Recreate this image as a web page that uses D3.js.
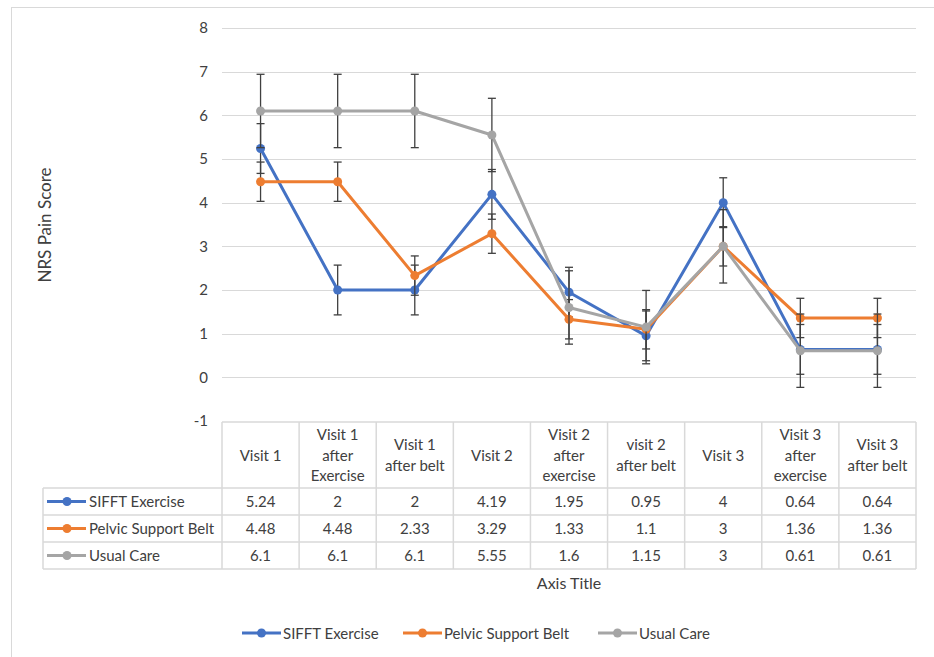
<!DOCTYPE html>
<html lang="en">
<head>
<meta charset="UTF-8">
<title>NRS Pain Score</title>
<script src="https://d3js.org/d3.v7.min.js"></script>
<style>
  body { margin: 0; background: #fff; }
  text { font-family: Lato, "Open Sans", sans-serif; fill: #404040; }
</style>
</head>
<body>
<div id="chart"></div>
<script>
// categories (header lines as shown in the table)
const categories = [
  ["Visit 1"],
  ["Visit 1", "after", "Exercise"],
  ["Visit 1", "after belt"],
  ["Visit 2"],
  ["Visit 2", "after", "exercise"],
  ["visit 2", "after belt"],
  ["Visit 3"],
  ["Visit 3", "after", "exercise"],
  ["Visit 3", "after belt"]
];
const seriesNames = ["SIFFT Exercise", "Pelvic Support Belt", "Usual Care"];
const sifft = [5.24, 2, 2, 4.19, 1.95, 0.95, 4, 0.64, 0.64];
const belt = [4.48, 4.48, 2.33, 3.29, 1.33, 1.1, 3, 1.36, 1.36];
const usual = [6.1, 6.1, 6.1, 5.55, 1.6, 1.15, 3, 0.61, 0.61];
const errors = [0.57, 0.45, 0.84];
const yTicks = [-1, 0, 1, 2, 3, 4, 5, 6, 7, 8];
const colors = ["#4472C4", "#ED7D31", "#A5A5A5"];

const series = [sifft, belt, usual].map((v, i) => ({ name: seriesNames[i], values: v, err: errors[i], color: colors[i] }));

const W = 934, H = 657;
const svg = d3.select("#chart").append("svg").attr("width", W).attr("height", H);

// outer chart border
svg.append("rect").attr("x", 11.5).attr("y", 7.5).attr("width", W).attr("height", H)
  .attr("fill", "none").attr("stroke", "#D9D9D9");

const x = d3.scaleBand().domain(d3.range(categories.length)).range([222, 916]);
const y = d3.scaleLinear().domain([-1, 8]).range([421, 28]);

// gridlines
svg.append("g").selectAll("line").data(yTicks.filter(t => t >= 0)).join("line")
  .attr("x1", 222).attr("x2", 916)
  .attr("y1", d => Math.round(y(d)) + 0.5).attr("y2", d => Math.round(y(d)) + 0.5)
  .attr("stroke", "#D9D9D9").attr("stroke-width", 1);

// y axis labels
const yAxis = svg.append("g").attr("transform", "translate(208,0)")
  .call(d3.axisLeft(y).tickValues(yTicks).tickFormat(d => String(d)).tickSize(0).tickPadding(0));
yAxis.select(".domain").remove();
yAxis.selectAll("text").style("font-size", "15px").style("font-family", "Lato, sans-serif").attr("fill", "#404040");

svg.append("text").attr("transform", "translate(51,225) rotate(-90)")
  .attr("text-anchor", "middle").style("font-size", "17px").text("NRS Pain Score");

// series
const cx = i => x(i) + x.bandwidth() / 2;
const line = d3.line().x((d, i) => cx(i)).y(d => y(d));

series.forEach(s => {
  const g = svg.append("g");
  g.append("path").datum(s.values).attr("d", line)
    .attr("fill", "none").attr("stroke", s.color).attr("stroke-width", 3).attr("stroke-linejoin", "round");
  const eb = g.append("g").attr("stroke", "#404040").attr("stroke-width", 1.3);
  s.values.forEach((v, i) => {
    const x0 = cx(i), t = y(v + s.err), b = y(v - s.err);
    eb.append("line").attr("x1", x0).attr("x2", x0).attr("y1", t).attr("y2", b);
    eb.append("line").attr("x1", x0 - 4).attr("x2", x0 + 4).attr("y1", t).attr("y2", t);
    eb.append("line").attr("x1", x0 - 4).attr("x2", x0 + 4).attr("y1", b).attr("y2", b);
  });
  g.selectAll("circle").data(s.values).join("circle")
    .attr("cx", (d, i) => cx(i)).attr("cy", d => y(d)).attr("r", 4.5)
    .attr("fill", s.color);
});

// data table
const tTop = 422, hdrBot = 488, rowH = 27, tLeft = 43, tRight = 916;
const rowY = i => hdrBot + i * rowH;
const tbl = svg.append("g").attr("stroke", "#D9D9D9").attr("stroke-width", 1.5).attr("fill", "none");
tbl.append("line").attr("x1", 222).attr("x2", tRight).attr("y1", tTop).attr("y2", tTop);
[0, 1, 2, 3].forEach(i => tbl.append("line").attr("x1", tLeft).attr("x2", tRight).attr("y1", rowY(i)).attr("y2", rowY(i)));
tbl.append("line").attr("x1", tLeft).attr("x2", tLeft).attr("y1", hdrBot).attr("y2", rowY(3));
d3.range(categories.length + 1).forEach(i => {
  const xx = i < categories.length ? x(i) : tRight;
  tbl.append("line").attr("x1", xx).attr("x2", xx).attr("y1", tTop).attr("y2", rowY(3));
});

// header text
categories.forEach((lines, i) => {
  const n = lines.length, lh = 20.5, mid = (tTop + hdrBot) / 2;
  lines.forEach((l, j) => {
    svg.append("text").attr("x", cx(i)).attr("y", mid + (j - (n - 1) / 2) * lh + 5.5)
      .attr("text-anchor", "middle").style("font-size", "15px").text(l);
  });
});

// rows
series.forEach((s, r) => {
  const yc = rowY(r) + rowH / 2;
  svg.append("line").attr("x1", 47).attr("x2", 86).attr("y1", yc).attr("y2", yc)
    .attr("stroke", s.color).attr("stroke-width", 3);
  svg.append("circle").attr("cx", 67).attr("cy", yc).attr("r", 4.5).attr("fill", s.color);
  svg.append("text").attr("x", 89).attr("y", yc + 5.5).style("font-size", "15px").text(s.name);
  s.values.forEach((v, i) => {
    svg.append("text").attr("x", cx(i)).attr("y", yc + 5.5).attr("text-anchor", "middle")
      .style("font-size", "15px").text(v);
  });
});

svg.append("text").attr("x", 569).attr("y", 589).attr("text-anchor", "middle")
  .style("font-size", "16px").text("Axis Title");

// legend
const legX = [242, 403, 598];
series.forEach((s, i) => {
  const g = svg.append("g").attr("transform", `translate(${legX[i]},633)`);
  g.append("line").attr("x1", 0).attr("x2", 39).attr("stroke", s.color).attr("stroke-width", 3);
  g.append("circle").attr("cx", 19.5).attr("r", 4.5).attr("fill", s.color);
  g.append("text").attr("x", 41).attr("y", 5.5).style("font-size", "15px").text(s.name);
});
</script>
</body>
</html>
